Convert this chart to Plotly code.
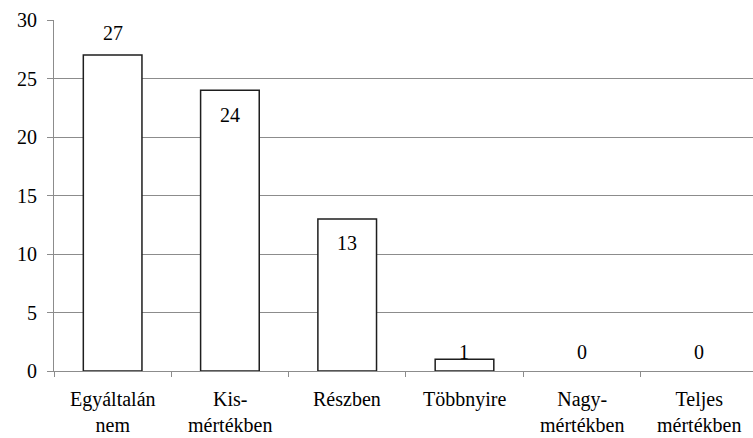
import plotly.graph_objects as go

# Response categories and counts
categories = [
    "Egyáltalán<br>nem",
    "Kis-<br>mértékben",
    "Részben",
    "Többnyire",
    "Nagy-<br>mértékben",
    "Teljes<br>mértékben",
]
counts = [27, 24, 13, 1, 0, 0]
y_ticks = [0, 5, 10, 15, 20, 25, 30]

# vertical pixel offset of each value label relative to its bar top
label_shift = [22, -25, -24, 7, 19, 19]

FONT = "Liberation Serif, serif"
GRID = "#8c8c8c"
SIZE = 20

fig = go.Figure(
    go.Bar(
        x=categories,
        y=counts,
        width=0.5,
        marker=dict(
            color="white",
            line=dict(color="#1e1e1e", width=[1.5 if v > 0 else 0 for v in counts]),
        ),
        hoverinfo="skip",
    )
)

# value labels
for cat, v, dy in zip(categories, counts, label_shift):
    fig.add_annotation(
        x=cat, y=v, text=str(v), showarrow=False, yshift=dy,
        font=dict(family=FONT, size=SIZE, color="black"),
        xanchor="center", yanchor="middle",
    )

# category labels under the axis
for cat in categories:
    fig.add_annotation(
        x=cat, y=0, yref="y", text=cat, showarrow=False, yshift=-15,
        font=dict(family=FONT, size=SIZE, color="black"),
        xanchor="center", yanchor="top", align="center",
    )

fig.update_layout(
    template="none",
    width=753,
    height=438,
    margin=dict(l=54, r=0, t=20, b=67),
    paper_bgcolor="white",
    plot_bgcolor="white",
    showlegend=False,
    font=dict(family=FONT, size=SIZE, color="black"),
)

fig.update_xaxes(
    type="category",
    range=[-0.5, 5.46],
    tickson="boundaries",
    ticks="outside",
    ticklen=5,
    tickcolor=GRID,
    showline=True,
    linecolor=GRID,
    linewidth=1,
    showgrid=False,
    showticklabels=False,
)

fig.update_yaxes(
    range=[0, 30],
    tickvals=y_ticks,
    ticks="outside",
    ticklen=6,
    tickcolor=GRID,
    showline=True,
    linecolor=GRID,
    linewidth=1,
    showgrid=True,
    gridcolor=GRID,
    gridwidth=1,
    zeroline=False,
    ticklabelstandoff=6,
    tickfont=dict(family=FONT, size=SIZE, color="black"),
)

fig.write_html("out.html")
